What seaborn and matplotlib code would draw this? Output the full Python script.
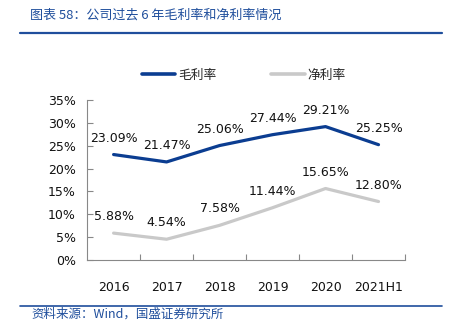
import matplotlib
matplotlib.use("Agg")
import matplotlib.pyplot as plt
import seaborn as sns
import pandas as pd
from matplotlib.lines import Line2D

years = ["2016", "2017", "2018", "2019", "2020", "2021H1"]
gross = [23.09, 21.47, 25.06, 27.44, 29.21, 25.25]
net = [5.88, 4.54, 7.58, 11.44, 15.65, 12.80]
yticks = [0, 5, 10, 15, 20, 25, 30, 35]

sns.set_theme(style="white")
plt.rcParams['font.family'] = ['DejaVu Sans', 'Noto Sans CJK SC']

blue = "#0B3D91"
grey = "#C9C9C9"
txt_blue = "#1F4E9C"

df = pd.DataFrame({"x": list(range(len(years))) * 2,
                   "v": gross + net,
                   "s": ["毛利率"] * 6 + ["净利率"] * 6})

fig = plt.figure(figsize=(4.49, 3.35), dpi=100)
ax = fig.add_axes([0.194, 0.224, 0.708, 0.477])
sns.lineplot(data=df, x="x", y="v", hue="s", palette={"毛利率": blue, "净利率": grey},
             linewidth=2.3, ax=ax, legend=False)

for i, v in enumerate(gross):
    ax.text(i, v + 3.6, f"{v:.2f}%", ha="center", va="center", fontsize=9, color="#111111")
for i, v in enumerate(net):
    ax.text(i, v + 3.6, f"{v:.2f}%", ha="center", va="center", fontsize=9, color="#111111")

ax.set_xlim(-0.5, 5.5)
ax.set_ylim(0, 35)
ax.set_xticks(range(len(years)))
ax.set_xticklabels(years, fontsize=9)
ax.set_xticks([i + 0.5 for i in range(len(years))], minor=True)
ax.set_yticks(yticks)
ax.set_yticklabels([f"{t}%" for t in yticks], fontsize=9)
ax.set_xlabel("")
ax.set_ylabel("")
for s in ["top", "right"]:
    ax.spines[s].set_visible(False)
for s in ["left", "bottom"]:
    ax.spines[s].set_color("#888888")
    ax.spines[s].set_linewidth(0.8)
ax.tick_params(axis="y", which="major", left=True, direction="in", length=4, width=0.8,
               color="#888888", labelcolor="#111111", pad=8)
ax.tick_params(axis="x", which="major", bottom=False, pad=9, labelcolor="#111111")
ax.tick_params(axis="x", which="minor", bottom=True, direction="in", length=4, width=0.8,
               color="#888888")

handles = [Line2D([0], [0], color=blue, lw=2.6), Line2D([0], [0], color=grey, lw=2.6)]
fig.legend(handles, ["毛利率", "净利率"], loc="center", bbox_to_anchor=(0.543, 0.776),
           ncol=2, frameon=False, handlelength=2.6, handletextpad=0.25,
           columnspacing=4.3, prop={"family": ["Noto Sans CJK SC"], "size": 9.2})

fig.text(0.067, 0.955, "图表 58：公司过去 6 年毛利率和净利率情况", fontsize=9.4, color=txt_blue,
         style="italic", family=["Noto Sans CJK SC", "DejaVu Sans"], va="center")
fig.add_artist(Line2D([0.045, 0.985], [0.901, 0.901], color="#1F4E9C", lw=1.6))
fig.add_artist(Line2D([0.045, 0.985], [0.087, 0.087], color="#1F4E9C", lw=1.2))
fig.text(0.071, 0.062, "资料来源：Wind，国盛证券研究所", fontsize=9, color=txt_blue,
         style="italic", family=["Noto Sans CJK SC", "DejaVu Sans"], va="center")

fig.savefig("out.png", dpi=100)
